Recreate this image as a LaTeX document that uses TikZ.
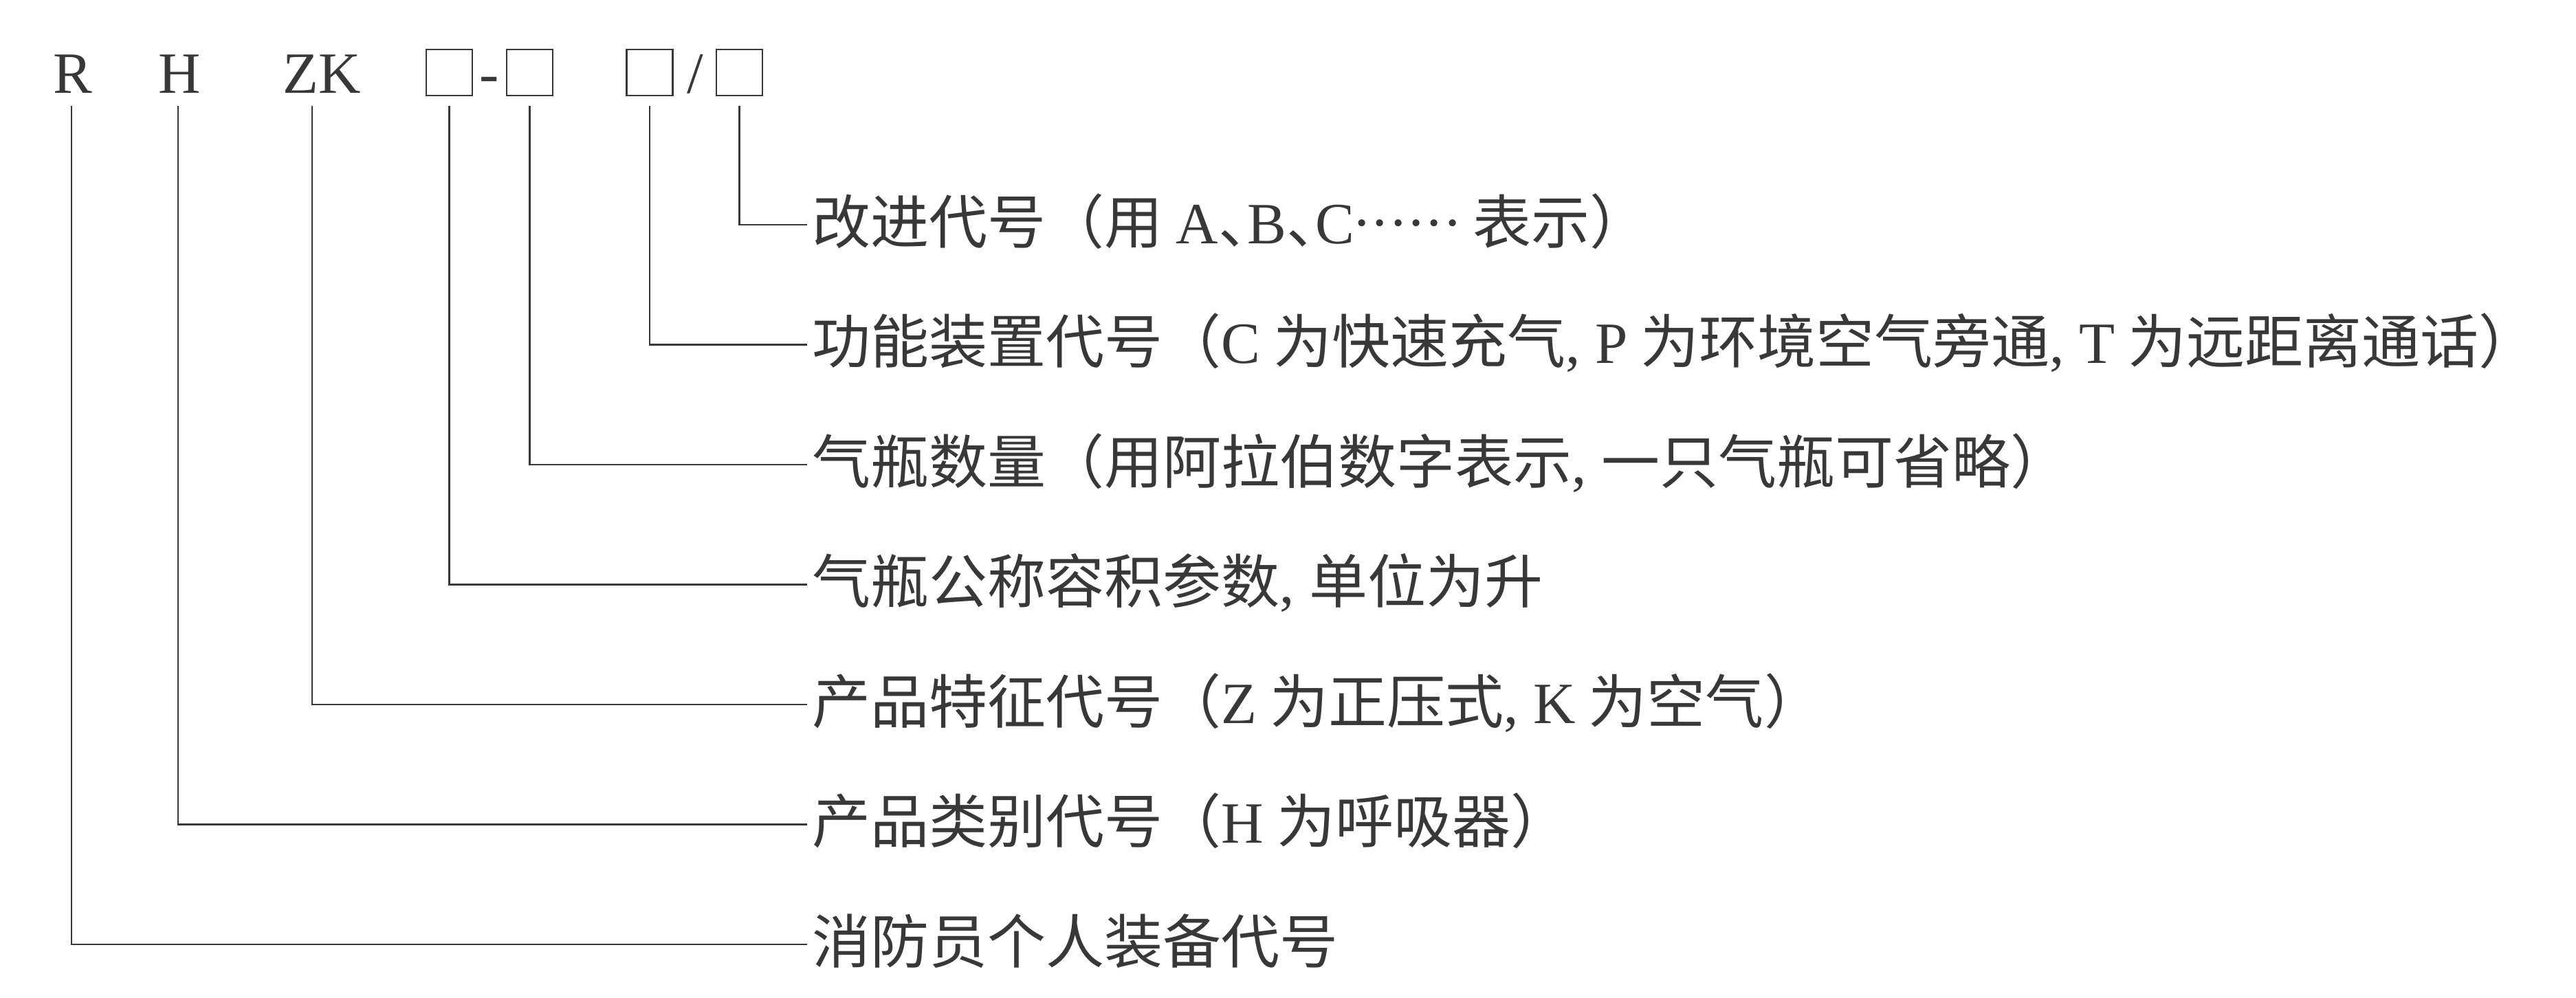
\documentclass[tikz,border=0pt]{standalone}
\usepackage{fontspec}
\setmainfont{Liberation Serif}
\newfontfamily\cjk{Noto Sans CJK SC}

\definecolor{ink}{gray}{0.22}
\newcommand\Lat[1]{{\rmfamily #1}}
\newcommand\dun{\makebox[0.5em][l]{、}}
\newcommand\middots{\raisebox{0.3em}{\rmfamily\makebox[1.8em][s]{.\hfil.\hfil.\hfil.\hfil.\hfil.}}}

\begin{document}
\begin{tikzpicture}[
    color = ink, line width = 0.7pt,
    every node/.style = {inner sep = 0pt, text = ink, font = \fontsize{24.2}{29}\selectfont},
    code/.style = {anchor = base},
    slot/.style = {draw = ink, minimum width = 0.67cm, minimum height = 0.67cm},
    lbl/.style  = {anchor = base west, xshift = 0.06cm, yshift = -0.27cm,
                   font = \fontsize{24.2}{29}\selectfont\cjk},
  ]
        \useasboundingbox (0, 0) rectangle (37.47, -14.51);

        % ------------------------------------------------------------------------
        % Code
        \node[code] at ( 1.06, -1.35) (R)  {R};
        \node[code] at ( 2.61, -1.35) (H)  {H};
        \node[code] at ( 4.68, -1.35) (ZK) {ZK};

        \node[slot] at ( 6.535, -1.055) (s1) {};
        \node[code] at ( 7.12,  -1.35)  (dash) {-};
        \node[slot] at ( 7.705, -1.055) (s2) {};

        \node[slot] at ( 9.45,  -1.055) (s3) {};
        \node[code] at (10.11,  -1.35)  (slash) {/};
        \node[slot] at (10.755, -1.055) (s4) {};

        % ------------------------------------------------------------------------
        % Ends of the leaders
        \coordinate (e1) at (11.74,  -3.27);
        \coordinate (e2) at (11.74,  -5.015);
        \coordinate (e3) at (11.74,  -6.76);
        \coordinate (e4) at (11.74,  -8.505);
        \coordinate (e5) at (11.74, -10.25);
        \coordinate (e6) at (11.74, -11.995);
        \coordinate (e7) at (11.74, -13.74);

        \node[lbl] at (e1) (t1) {改进代号（用 \Lat{A}\dun\Lat{B}\dun\Lat{C}\middots{} 表示）};
        \node[lbl] at (e2) (t2) {功能装置代号（\Lat{C} 为快速充气\Lat{, P} 为环境空气旁通\Lat{, T} 为远距离通话）};
        \node[lbl] at (e3) (t3) {气瓶数量（用阿拉伯数字表示\Lat{, }一只气瓶可省略）};
        \node[lbl] at (e4) (t4) {气瓶公称容积参数\Lat{, }单位为升};
        \node[lbl] at (e5) (t5) {产品特征代号（\Lat{Z} 为正压式\Lat{, K} 为空气）};
        \node[lbl] at (e6) (t6) {产品类别代号（\Lat{H} 为呼吸器）};
        \node[lbl] at (e7) (t7) {消防员个人装备代号};

        \draw
          ([yshift = -1.4mm]s4.south) |- (e1)
          ([yshift = -1.4mm]s3.south) |- (e2)
          ([yshift = -1.4mm]s2.south) |- (e3)
          ([yshift = -1.4mm]s1.south) |- (e4)
          ([xshift = -1.4mm, yshift = -1.8mm]ZK.south) |- (e5)
          ([xshift = -0.2mm, yshift = -1.8mm]H.south)  |- (e6)
          ([xshift = -0.2mm, yshift = -1.8mm]R.south)  |- (e7)
        ;
      \end{tikzpicture}
\end{document}
